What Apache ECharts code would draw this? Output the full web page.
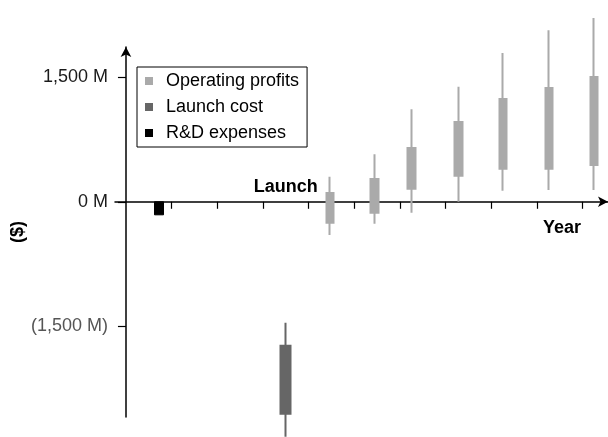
<!DOCTYPE html>
<html>
<head>
<meta charset="utf-8">
<script src="https://cdn.jsdelivr.net/npm/echarts@6/dist/echarts.min.js"></script>
<style>
  html, body { margin: 0; padding: 0; background: #fff; }
  #chart { width: 608px; height: 437px; }
</style>
</head>
<body>
<div id="chart"></div>
<script>
// ---- Data (values in $M; x in years from origin) ----
// each row: [year, open, close, low, high]
var rdExpenses = [[0.72, 0, -157, -157, 0]];
var launchCost = [[3.50, -1734, -2553, -2830, -1457]];
var operatingProfits = [
  [4.47, -252, 106, -400, 302],
  [5.45, -131, 275, -264, 572],
  [6.26, 158, 648, -131, 1115],
  [7.28, 315, 962, 0, 1387],
  [8.26, 399, 1239, 134, 1793],
  [9.27, 399, 1371, 142, 2067],
  [10.25, 443, 1504, 142, 2215]
];
var yTickValues = [-1500, 0, 1500];
var xTickValues = [1, 2, 3, 4, 5, 6, 7, 8, 9, 10];
var seriesNames = ['Operating profits', 'Launch cost', 'R&D expenses'];
var launchLabel = 'Launch';
var xName = 'Year';
var yName = '($)';

var FONT = "'Liberation Sans', Arial, Helvetica, sans-serif";

function fmtM(v) {
  var a = Math.abs(v).toLocaleString('en-US');
  if (v < 0) return '{neg|(' + a + ' M)}';
  return '{pos|' + a + ' M}';
}

function candle(name, data, color, barWidth, borderWidth, extra) {
  var s = {
    name: name,
    type: 'candlestick',
    data: data,
    encode: { x: 0, y: [1, 2, 3, 4] },
    barWidth: barWidth,
    clip: false,
    silent: true,
    itemStyle: {
      color: color, color0: color,
      borderColor: color, borderColor0: color, borderColorDoji: color,
      borderWidth: borderWidth
    },
    emphasis: { disabled: true }
  };
  if (extra) for (var k in extra) s[k] = extra[k];
  return s;
}

var chart = echarts.init(document.getElementById('chart'), null, { renderer: 'canvas' });
chart.setOption({
  animation: false,
  backgroundColor: '#fff',
  textStyle: { fontFamily: FONT },
  grid: { left: 115, right: 0, top: 47, bottom: 20, containLabel: false, outerBoundsMode: 'none' },
  legend: {
    orient: 'vertical',
    left: 137, top: 67,
    padding: [5, 8, 5, 8],
    itemGap: 8,
    itemWidth: 8, itemHeight: 8,
    borderColor: '#000', borderWidth: 1, borderRadius: 0,
    selectedMode: false,
    icon: 'rect',
    itemStyle: { borderWidth: 0 },
    textStyle: { fontFamily: FONT, fontSize: 18, color: '#000', padding: [0, 0, 0, 8] },
    data: seriesNames
  },
  xAxis: {
    type: 'value',
    min: -0.24, max: 10.56,
    splitLine: { show: false },
    axisLine: { onZero: true, symbol: ['none', 'arrow'], symbolSize: [8, 10],
      lineStyle: { color: '#000', width: 1.5 } },
    axisTick: { show: true, length: 7, customValues: xTickValues, lineStyle: { color: '#000', width: 1.2 } },
    axisLabel: { show: false },
    name: xName,
    nameLocation: 'end',
    nameGap: -46,
    nameTextStyle: { fontFamily: FONT, fontSize: 18, fontWeight: 'bold', color: '#000',
      align: 'center', verticalAlign: 'top', padding: [17, 0, 0, 0] }
  },
  yAxis: {
    type: 'value',
    min: -2593, max: 1865,
    splitLine: { show: false },
    axisLine: { onZero: true, symbol: ['none', 'arrow'], symbolSize: [8, 10],
      lineStyle: { color: '#000', width: 1.5 } },
    axisTick: { show: true, length: 8, customValues: yTickValues, lineStyle: { color: '#000', width: 1.2 } },
    axisLabel: {
      customValues: yTickValues,
      margin: 7,
      fontFamily: FONT, fontSize: 18,
      formatter: fmtM,
      rich: {
        pos: { fontFamily: FONT, fontSize: 18, color: '#1a1a1a' },
        neg: { fontFamily: FONT, fontSize: 18, color: '#555' }
      }
    },
    name: yName,
    nameLocation: 'middle',
    nameRotate: 90,
    nameGap: 88,
    nameMoveOverlap: false,
    nameTextStyle: { fontFamily: FONT, fontSize: 18, fontWeight: 'bold', color: '#000' }
  },
  series: [
    candle(seriesNames[0], operatingProfits, '#aaaaaa', 8, 2),
    candle(seriesNames[1], launchCost, '#666666', 10, 2, {
      markPoint: {
        silent: true,
        symbol: 'circle', symbolSize: 0,
        label: { show: true, formatter: launchLabel, position: 'top', distance: 6,
          fontFamily: FONT, fontSize: 18, fontWeight: 'bold', color: '#000' },
        data: [{ coord: [launchCost[0][0], 0] }]
      }
    }),
    candle(seriesNames[2], rdExpenses, '#000000', 9, 1)
  ]
});
</script>
</body>
</html>
